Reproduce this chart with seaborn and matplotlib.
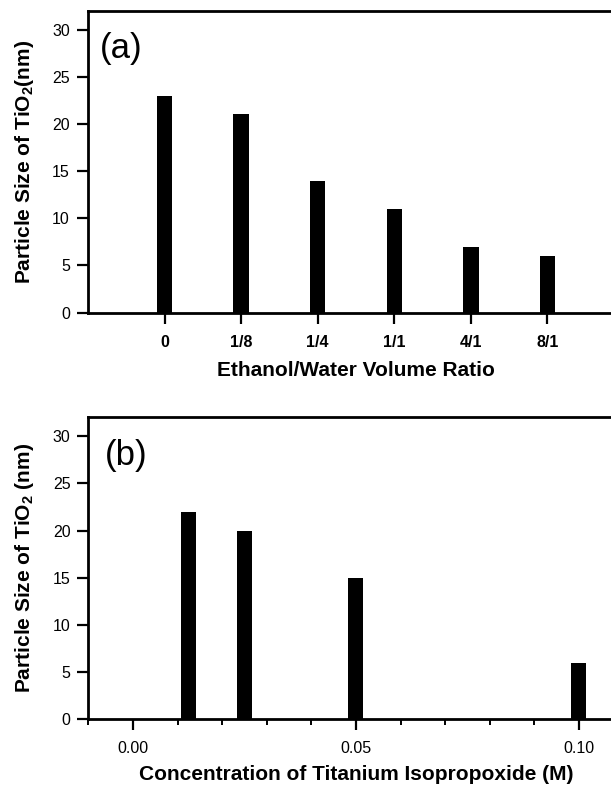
import matplotlib
matplotlib.use("Agg")
import matplotlib.pyplot as plt
import seaborn as sns
import pandas as pd
from matplotlib.ticker import MultipleLocator, FixedLocator

# Panel (a): particle size vs ethanol/water volume ratio
ratio_labels = ["0", "1/8", "1/4", "1/1", "4/1", "8/1"]
ratio_sizes = [23, 21, 14, 11, 7, 6]

# Panel (b): particle size vs titanium isopropoxide concentration (M)
conc_values = [0.0125, 0.025, 0.05, 0.10]
conc_sizes = [22, 20, 15, 6]

y_ticks = [0, 5, 10, 15, 20, 25, 30]
conc_ticks = [0.00, 0.05, 0.10]
conc_tick_labels = ["0.00", "0.05", "0.10"]

sns.set_style("ticks")
plt.rcParams["font.family"] = ["Liberation Sans", "DejaVu Sans"]
plt.rcParams["mathtext.default"] = "regular"
for key in ("text.color", "axes.labelcolor", "xtick.color", "ytick.color",
            "axes.edgecolor"):
    plt.rcParams[key] = "black"

fig = plt.figure(figsize=(6.11, 7.86), dpi=100)
# both panels run past the right edge of the figure
ax_a = fig.add_axes([0.1440, 0.6022, 0.8773, 0.3842])
ax_b = fig.add_axes([0.1448, 0.0849, 0.8756, 0.3842])

df_a = pd.DataFrame({"ratio": ratio_labels, "size": ratio_sizes})
sns.barplot(data=df_a, x="ratio", y="size", order=ratio_labels, color="black",
            saturation=1, width=0.2, linewidth=0, ax=ax_a)

df_b = pd.DataFrame({"conc": conc_values, "size": conc_sizes})
sns.barplot(data=df_b, x="conc", y="size", native_scale=True, color="black",
            saturation=1, width=0.27, linewidth=0, ax=ax_b)

ylab_kw = dict(fontsize=15, fontweight="bold", color="black")
xlab_kw = dict(fontsize=15, fontweight="bold", color="black")

# Axis styling shared by both panels
for ax in (ax_a, ax_b):
    ax.set_ylim(0, 32)
    ax.set_yticks(y_ticks)
    ax.set_yticklabels([str(v) for v in y_ticks], fontsize=11.5, color="black")
    for side in ("left", "right", "top", "bottom"):
        ax.spines[side].set_visible(True)
        ax.spines[side].set_linewidth(2)
        ax.spines[side].set_color("black")
    ax.tick_params(axis="both", which="major", direction="out", length=8,
                   width=1.6, color="black", labelcolor="black",
                   bottom=True, left=True, top=False, right=False)
    ax.tick_params(axis="both", which="minor", direction="out", length=4,
                   width=1.4, color="black")
    ax.tick_params(axis="y", pad=5)
    ax.tick_params(axis="x", pad=8)

ax_a.set_xlim(-1, 6)
ax_a.xaxis.set_major_locator(FixedLocator(list(range(len(ratio_labels)))))
ax_a.set_xticklabels(ratio_labels, fontsize=11.5, fontweight="bold", color="black")
ax_a.set_xlabel("Ethanol/Water Volume Ratio", labelpad=8, **xlab_kw)
ax_a.set_ylabel("Particle Size of TiO$_2$(nm)", labelpad=12, **ylab_kw)
ax_a.text(0.022, 0.876, "(a)", transform=ax_a.transAxes, fontsize=25,
          ha="left", va="center", color="black")

ax_b.set_xlim(-0.01, 0.11)
ax_b.set_xticks(conc_ticks)
ax_b.set_xticklabels(conc_tick_labels, fontsize=11.5, color="black")
ax_b.xaxis.set_minor_locator(MultipleLocator(0.01))
ax_b.set_xlabel("Concentration of Titanium Isopropoxide (M)", labelpad=6, **xlab_kw)
ax_b.set_ylabel("Particle Size of TiO$_2$ (nm)", labelpad=12, **ylab_kw)
ax_b.text(0.031, 0.873, "(b)", transform=ax_b.transAxes, fontsize=25,
          ha="left", va="center", color="black")

fig.savefig("out.png", dpi=100)
